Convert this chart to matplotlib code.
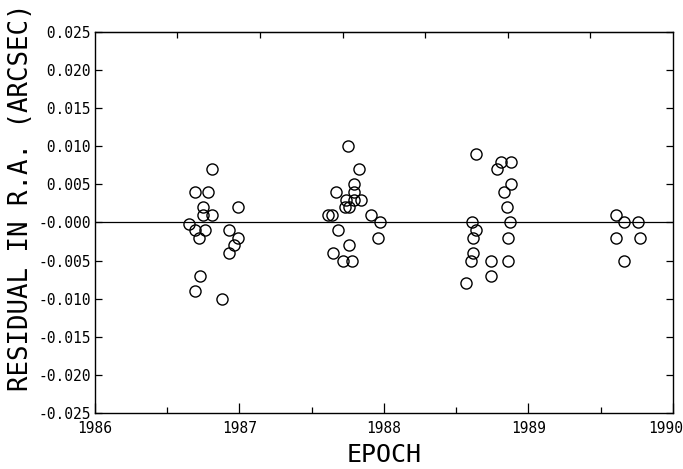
import numpy as np
import matplotlib.pyplot as plt

# residuals (epoch, residual in arcsec)
epoch = [
    1986.81, 1986.69, 1986.78, 1986.75, 1986.75, 1986.81, 1986.99, 1986.65, 1986.69,
    1986.76, 1986.72, 1986.93, 1986.99, 1986.96, 1986.93, 1986.73, 1986.69, 1986.88,
    1987.75, 1987.83, 1987.79, 1987.79, 1987.67, 1987.74, 1987.79, 1987.84, 1987.73,
    1987.76, 1987.61, 1987.64, 1987.91, 1987.97, 1987.68, 1987.96, 1987.76, 1987.65,
    1987.72, 1987.78,
    1988.64, 1988.81, 1988.88, 1988.78, 1988.88, 1988.83, 1988.85, 1988.61, 1988.87,
    1988.64, 1988.62, 1988.86, 1988.62, 1988.60, 1988.74, 1988.86, 1988.74, 1988.57,
    1989.61, 1989.66, 1989.76, 1989.61, 1989.77, 1989.66,
]
residual = [
    0.007, 0.004, 0.004, 0.002, 0.001, 0.001, 0.002, -0.0002, -0.001,
    -0.001, -0.002, -0.001, -0.002, -0.003, -0.004, -0.007, -0.009, -0.010,
    0.010, 0.007, 0.005, 0.004, 0.004, 0.003, 0.003, 0.003, 0.002,
    0.002, 0.001, 0.001, 0.001, -0.000, -0.001, -0.002, -0.003, -0.004,
    -0.005, -0.005,
    0.009, 0.008, 0.008, 0.007, 0.005, 0.004, 0.002, 0.000, 0.000,
    -0.001, -0.002, -0.002, -0.004, -0.005, -0.005, -0.005, -0.007, -0.008,
    0.001, 0.000, 0.000, -0.002, -0.002, -0.005,
]

year_ticks = [1986, 1987, 1988, 1989, 1990]
y_ticks = np.arange(-0.025, 0.0251, 0.005)
y_labels = ["-0.025", "-0.020", "-0.015", "-0.010", "-0.005", "-0.000",
            " 0.005", " 0.010", " 0.015", " 0.020", " 0.025"]

plt.rcParams['font.family'] = 'DejaVu Sans Mono'

fig = plt.figure(figsize=(6.83, 4.69), dpi=100)
ax = fig.add_axes([0.139, 0.1194, 0.846, 0.8124])

ax.axhline(0, color='black', lw=0.9)
ax.plot(epoch, residual, 'o', mfc='none', mec='black', ms=8, mew=1.0)

ax.set_xlim(1986, 1990)
ax.set_ylim(-0.025, 0.025)

# last year label drawn by hand so it stays inside the figure, like the original
ax.set_xticks(year_ticks)
ax.set_xticklabels([str(y) for y in year_ticks[:-1]] + [""], fontsize=10.5)
ax.annotate(str(year_ticks[-1]), xy=(year_ticks[-1], 0), xycoords=('data', 'axes fraction'),
            xytext=(7.5, -6), textcoords='offset points', ha='right', va='top', fontsize=10.5)
ax.set_xticks([1986.5, 1987.5, 1988.5, 1989.5], minor=True)
ax.set_yticks(y_ticks)
ax.set_yticklabels(y_labels, fontsize=10.5)

ax.tick_params(axis='x', which='major', direction='in', length=7, width=0.9, pad=6)
ax.tick_params(axis='x', which='minor', direction='in', length=4, width=0.9)
ax.tick_params(axis='y', direction='in', length=5, width=0.9, right=True, pad=3)

# top spine ticks at odd spacing, as on the original plotter output
top = ax.secondary_xaxis('top')
top.set_xticks([1986 + k * 4 / 7 for k in range(1, 7)])
top.set_xticklabels([])
top.tick_params(direction='in', length=4, width=0.9)

for s in ax.spines.values():
    s.set_linewidth(1.0)

ax.set_xlabel("EPOCH", fontsize=18, labelpad=5)
ax.set_ylabel("RESIDUAL IN R.A. (ARCSEC)", fontsize=18.5)
ax.yaxis.set_label_coords(-0.106, 0.565)

fig.savefig("out.png", dpi=100)
